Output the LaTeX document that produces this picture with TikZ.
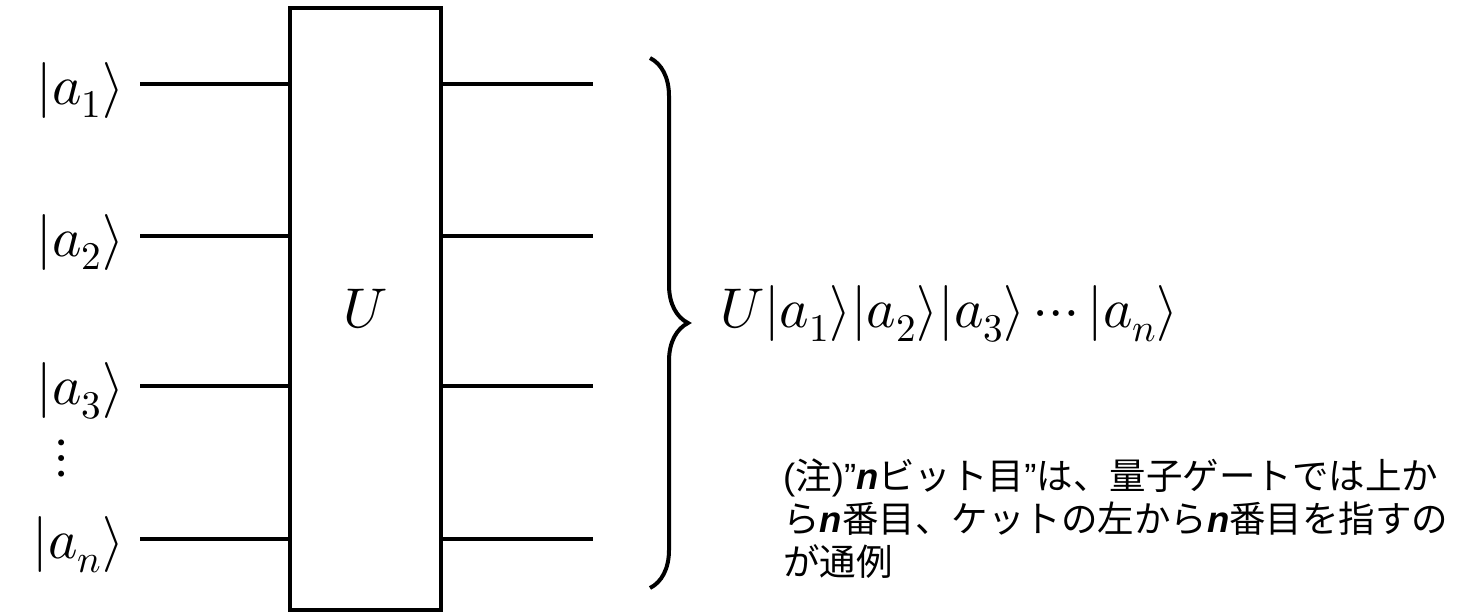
\documentclass[tikz,border=0pt]{standalone}
\usepackage{fontspec}
\usepackage{unicode-math}
\setmathfont{Latin Modern Math}
\newfontfamily\cjk{Noto Sans CJK JP}
\newfontfamily\latn{Liberation Sans}
\usetikzlibrary{decorations.pathreplacing}
\tikzset{
  ket/.style={font=\fontsize{56}{66}\selectfont, inner sep=0pt},
  gate/.style={draw, line width=4pt, minimum width=151pt, minimum height=602pt, font=\fontsize{56}{66}\selectfont},
  wire/.style={line width=4pt},
}
\begin{document}
\begin{tikzpicture}[x=1pt, y=-1pt]
\useasboundingbox (0,0) rectangle (1471,614);

\node[gate] (gate) at (365.5,309) {$U$};

\node[ket, anchor=east] (k1) at (124,90) {$|a_1\rangle$};
\node[ket, anchor=east] (k2) at (124,242) {$|a_2\rangle$};
\node[ket, anchor=east] (k3) at (124,391) {$|a_3\rangle$};
\node[ket] (dots) at (62,458) {$\vdots$};
\node[ket, anchor=east] (kn) at (124,545) {$|a_n\rangle$};

\coordinate (in1) at (140,84);
\coordinate (in2) at (140,236);
\coordinate (in3) at (140,386);
\coordinate (inn) at (140,539);
\coordinate (out1) at (593,84);
\coordinate (out2) at (593,236);
\coordinate (out3) at (593,386);
\coordinate (outn) at (593,539);

\draw[wire] (in1) -- (in1 -| gate.west);
\draw[wire] (in2) -- (in2 -| gate.west);
\draw[wire] (in3) -- (in3 -| gate.west);
\draw[wire] (inn) -- (inn -| gate.west);
\draw[wire] (out1 -| gate.east) -- (out1);
\draw[wire] (out2 -| gate.east) -- (out2);
\draw[wire] (out3 -| gate.east) -- (out3);
\draw[wire] (outn -| gate.east) -- (outn);

% brace over the outputs
\coordinate (btop) at (650,58);
\coordinate (bbot) at (650,588);
\draw[wire, decorate, decoration={brace, amplitude=38pt}] (btop) -- (bbot);

\node[ket, anchor=west] (result) at (720,314) {$U|a_1\rangle|a_2\rangle|a_3\rangle\cdots|a_n\rangle$};

\node[anchor=north west, align=left, inner sep=0pt, font=\cjk\fontsize{36.5}{43}\selectfont] (note) at (783,459)
  {{\latn (}注{\latn )”\textbf{\textit{n}}}ビット目{\latn ”}は、量子ゲートでは上か\\
   ら{\latn\textbf{\textit{n}}}番目、ケットの左から{\latn\textbf{\textit{n}}}番目を指すの\\
   が通例};
\end{tikzpicture}
\end{document}
